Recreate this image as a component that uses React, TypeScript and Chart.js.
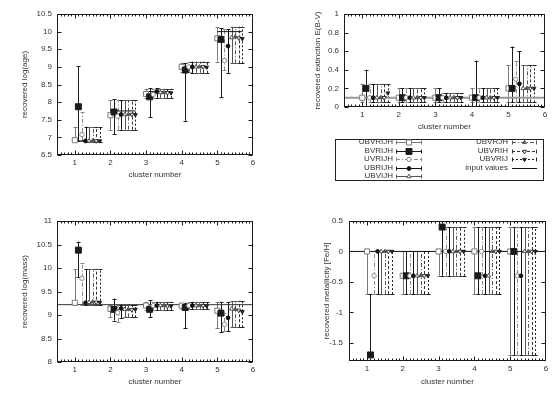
import React, { useEffect, useRef } from "react";
import { Chart, registerables } from "chart.js";
import { drawPoint } from "chart.js/helpers";

Chart.register(...registerables);

const FONT = "'Liberation Sans', Arial, sans-serif";
const TEXT = "#333";

const CLUSTERS = [1, 2, 3, 4, 5];
const X_TICKS = [1, 2, 3, 4, 5, 6];
const X_TITLE = "cluster number";
const SERIES = ["UBVRIJH", "BVRIJH", "UVRIJH", "UBRIJH", "UBVIJH", "UBVRJH", "UBVRIH", "UBVRIJ"];
const SERIES_SHIFT = [0, 0.1, 0.2, 0.3, 0.4, 0.5, 0.6, 0.7];
const INPUT_LABEL = "input values";

// ---- recovered log(age): rows = series, columns = clusters 1..5
const AGE_TICKS = [6.5, 7, 7.5, 8, 8.5, 9, 9.5, 10, 10.5];
const AGE_VALUE = [
  [6.92, 7.63, 8.23, 9.0, 9.81],
  [7.87, 7.72, 8.15, 8.91, 9.78],
  [7.08, 7.6, 8.22, 9.0, 9.18],
  [6.9, 7.65, 8.3, 9.0, 9.59],
  [6.9, 7.65, 8.27, 9.0, 9.83],
  [6.9, 7.65, 8.27, 9.0, 9.85],
  [6.9, 7.65, 8.27, 9.0, 9.82],
  [6.9, 7.64, 8.26, 8.99, 9.8],
];
const AGE_HIGH = [
  [7.3, 8.05, 8.38, 9.12, 10.12],
  [9.02, 8.08, 8.4, 9.1, 10.1],
  [7.72, 8.05, 8.38, 9.15, 10.08],
  [7.3, 8.05, 8.4, 9.15, 10.07],
  [7.3, 8.05, 8.38, 9.15, 10.14],
  [7.3, 8.05, 8.38, 9.15, 10.14],
  [7.3, 8.05, 8.38, 9.15, 10.14],
  [7.3, 8.05, 8.38, 9.15, 10.14],
];
const AGE_LOW = [
  [6.9, 7.22, 8.12, 8.85, 9.15],
  [6.9, 7.09, 7.57, 7.47, 8.14],
  [6.9, 7.22, 8.12, 8.85, 8.9],
  [6.87, 7.22, 8.12, 8.83, 8.83],
  [6.87, 7.22, 8.12, 8.83, 9.1],
  [6.87, 7.22, 8.12, 8.83, 9.1],
  [6.87, 7.22, 8.12, 8.83, 9.1],
  [6.87, 7.22, 8.12, 8.83, 9.1],
];
const AGE_INPUT = [6.9, 7.75, 8.3, 9.0, 10.0];

// ---- recovered extinction E(B-V)
const EXT_TICKS = [0, 0.2, 0.4, 0.6, 0.8, 1];
const EXT_VALUE = [
  [0.1, 0.1, 0.1, 0.1, 0.2],
  [0.2, 0.1, 0.1, 0.1, 0.2],
  [0.1, 0.1, 0.1, 0.1, 0.3],
  [0.1, 0.1, 0.1, 0.1, 0.25],
  [0.1, 0.1, 0.1, 0.1, 0.2],
  [0.1, 0.1, 0.1, 0.1, 0.2],
  [0.1, 0.1, 0.1, 0.1, 0.2],
  [0.15, 0.1, 0.1, 0.1, 0.2],
];
const EXT_HIGH = [
  [0.25, 0.2, 0.2, 0.2, 0.45],
  [0.4, 0.2, 0.2, 0.5, 0.65],
  [0.25, 0.2, 0.15, 0.2, 0.5],
  [0.25, 0.2, 0.15, 0.2, 0.6],
  [0.25, 0.2, 0.15, 0.2, 0.45],
  [0.25, 0.2, 0.15, 0.2, 0.45],
  [0.25, 0.2, 0.15, 0.2, 0.45],
  [0.25, 0.2, 0.15, 0.2, 0.45],
];
const EXT_LOW = [
  [0.05, 0.05, 0.05, 0.05, 0.05],
  [0.0, 0.05, 0.05, 0.0, 0.05],
  [0.05, 0.05, 0.05, 0.05, 0.05],
  [0.05, 0.05, 0.05, 0.05, 0.05],
  [0.05, 0.05, 0.05, 0.05, 0.05],
  [0.05, 0.05, 0.05, 0.05, 0.05],
  [0.05, 0.05, 0.05, 0.05, 0.05],
  [0.05, 0.05, 0.05, 0.05, 0.05],
];
const EXT_INPUT = 0.1;

// ---- recovered log(mass)
const MASS_TICKS = [8, 8.5, 9, 9.5, 10, 10.5, 11];
const MASS_VALUE = [
  [9.26, 9.13, 9.2, 9.2, 9.09],
  [10.38, 9.12, 9.12, 9.16, 9.04],
  [9.78, 9.05, 9.2, 9.2, 8.8],
  [9.26, 9.14, 9.2, 9.2, 8.94],
  [9.27, 9.12, 9.2, 9.2, 9.13],
  [9.28, 9.12, 9.2, 9.2, 9.12],
  [9.27, 9.11, 9.19, 9.2, 9.1],
  [9.27, 9.12, 9.19, 9.19, 9.07],
];
const MASS_HIGH = [
  [9.97, 9.22, 9.28, 9.22, 9.28],
  [10.56, 9.35, 9.32, 9.26, 9.28],
  [10.11, 9.22, 9.28, 9.28, 9.05],
  [9.98, 9.22, 9.28, 9.28, 9.28],
  [9.98, 9.22, 9.28, 9.28, 9.3],
  [9.98, 9.22, 9.28, 9.28, 9.3],
  [9.98, 9.22, 9.28, 9.28, 9.3],
  [9.98, 9.22, 9.28, 9.28, 9.3],
];
const MASS_LOW = [
  [9.22, 8.96, 9.1, 9.13, 8.72],
  [9.8, 8.88, 8.95, 8.72, 8.63],
  [9.22, 8.85, 9.1, 9.13, 8.66],
  [9.22, 8.93, 9.1, 9.13, 8.65],
  [9.22, 8.95, 9.1, 9.13, 8.74],
  [9.22, 8.95, 9.1, 9.13, 8.74],
  [9.22, 8.95, 9.1, 9.13, 8.74],
  [9.22, 8.95, 9.1, 9.13, 8.74],
];
const MASS_INPUT = 9.22;

// ---- recovered metallicity [Fe/H]
const MET_TICKS = [-1.5, -1, -0.5, 0, 0.5];
const MET_VALUE = [
  [0, -0.4, 0, 0, 0],
  [-1.7, -0.4, 0.4, -0.4, 0],
  [-0.4, -0.4, 0, 0, -0.4],
  [0, -0.4, 0, -0.4, -0.4],
  [0, -0.4, 0, -0.4, 0],
  [0, -0.4, 0, 0, 0],
  [0, -0.4, 0, 0, 0],
  [0, -0.4, 0, 0, 0],
];
const MET_HIGH = [
  [0, 0, 0, 0.4, 0.4],
  [-0.7, 0, 0.4, 0.4, 0.4],
  [0, 0, 0.4, 0.4, 0.4],
  [0, 0, 0.4, 0.4, 0.4],
  [0, 0, 0.4, 0.4, 0.4],
  [0, 0, 0.4, 0.4, 0.4],
  [0, 0, 0.4, 0.4, 0.4],
  [0, 0, 0.4, 0.4, 0.4],
];
const MET_LOW = [
  [-0.7, -0.7, -0.4, -0.7, -1.7],
  [-1.7, -0.7, -0.4, -0.7, -1.7],
  [-0.7, -0.7, -0.4, -0.7, -1.7],
  [-0.7, -0.7, -0.4, -0.7, -1.7],
  [-0.7, -0.7, -0.4, -0.7, -1.7],
  [-0.7, -0.7, -0.4, -0.7, -1.7],
  [-0.7, -0.7, -0.4, -0.7, -1.7],
  [-0.7, -0.7, -0.4, -0.7, -1.7],
];
const MET_INPUT = 0;

// ---- styles (separate from data)
const SERIES_STYLE = [
  { shape: "rect", rot: 0, r: 3.6, filled: false, color: "#7a7a7a", dash: [] as number[] },
  { shape: "rect", rot: 0, r: 4.2, filled: true, color: "#1a1a1a", dash: [] as number[] },
  { shape: "circle", rot: 0, r: 2.2, filled: false, color: "#8a8a8a", dash: [4, 2, 1, 2] },
  { shape: "circle", rot: 0, r: 1.9, filled: true, color: "#111", dash: [] as number[] },
  { shape: "triangle", rot: 0, r: 2.4, filled: false, color: "#555", dash: [] as number[] },
  { shape: "triangle", rot: 0, r: 2.2, filled: true, color: "#555", dash: [4, 2, 1, 2] },
  { shape: "triangle", rot: 180, r: 2.4, filled: false, color: "#333", dash: [3, 2] },
  { shape: "triangle", rot: 180, r: 2.2, filled: true, color: "#222", dash: [2, 2] },
];

type PanelDef = {
  value: number[][];
  low: number[][];
  high: number[][];
  input: number[] | number;
  inputColor: string;
  inputWidth: number;
  yMin: number;
  yMax: number;
  yTicks: number[];
  yTitle: string;
  box: { left: number; top: number; width: number; height: number };
  pad: { left: number; top: number; right: number; bottom: number };
  yW: number;
  xH: number;
  yTickPad: number;
  yTitlePad: number;
  xTickPad: number;
  xTitlePad: number;
  legend?: boolean;
};

const PANELS: PanelDef[] = [
  {
    value: AGE_VALUE, low: AGE_LOW, high: AGE_HIGH, input: AGE_INPUT,
    inputColor: "#111", inputWidth: 1,
    yMin: 6.5, yMax: 10.5, yTicks: AGE_TICKS, yTitle: "recovered log(age)",
    box: { left: 0, top: 0, width: 270, height: 190 },
    pad: { left: 0, top: 14, right: 17, bottom: 0 },
    yW: 57, xH: 35, yTickPad: 5, yTitlePad: 20, xTickPad: 3, xTitlePad: 10,
  },
  {
    value: EXT_VALUE, low: EXT_LOW, high: EXT_HIGH, input: EXT_INPUT,
    inputColor: "#999", inputWidth: 2,
    yMin: 0, yMax: 1, yTicks: EXT_TICKS, yTitle: "recovered extinction E(B-V)",
    box: { left: 280, top: 0, width: 280, height: 200 },
    pad: { left: 0, top: 14, right: 15, bottom: 63 },
    yW: 64, xH: 30, yTickPad: 5, yTitlePad: 33, xTickPad: 3, xTitlePad: 5,
    legend: true,
  },
  {
    value: MASS_VALUE, low: MASS_LOW, high: MASS_HIGH, input: MASS_INPUT,
    inputColor: "#333", inputWidth: 1,
    yMin: 8, yMax: 11, yTicks: MASS_TICKS, yTitle: "recovered log(mass)",
    box: { left: 0, top: 200, width: 270, height: 198 },
    pad: { left: 0, top: 21, right: 17, bottom: 0 },
    yW: 57, xH: 36, yTickPad: 5, yTitlePad: 20, xTickPad: 3, xTitlePad: 11,
  },
  {
    value: MET_VALUE, low: MET_LOW, high: MET_HIGH, input: MET_INPUT,
    inputColor: "#111", inputWidth: 1,
    yMin: -1.8, yMax: 0.5, yTicks: MET_TICKS, yTitle: "recovered metallicity [Fe/H]",
    box: { left: 280, top: 200, width: 280, height: 198 },
    pad: { left: 0, top: 21, right: 14, bottom: 0 },
    yW: 69, xH: 37, yTickPad: 6, yTitlePad: 42, xTickPad: 3, xTitlePad: 11,
  },
];

const fmt = (v: number) => String(Math.round(v * 100) / 100);

function drawLegend(ctx: CanvasRenderingContext2D) {
  // legend box in canvas coordinates of the extinction panel
  ctx.save();
  ctx.strokeStyle = "#222";
  ctx.lineWidth = 1;
  ctx.strokeRect(55.5, 139.5, 208, 41);
  ctx.font = `8px ${FONT}`;
  ctx.textAlign = "right";
  ctx.textBaseline = "middle";
  const rows = [142, 150.5, 159, 167.5, 176];
  const cols = [
    { text: 113, s0: 116, s1: 142 },
    { text: 228, s0: 232, s1: 257 },
  ];
  const entries: { label: string; idx: number }[] = SERIES.map((s, i) => ({ label: s, idx: i }));
  entries.push({ label: INPUT_LABEL, idx: -1 });
  entries.forEach((e, n) => {
    const col = n < 5 ? cols[0] : cols[1];
    const y = rows[n < 5 ? n : n - 5];
    ctx.fillStyle = TEXT;
    ctx.fillText(e.label, col.text, y);
    const yy = Math.round(y) + 0.5;
    if (e.idx < 0) {
      ctx.strokeStyle = "#111";
      ctx.setLineDash([]);
      ctx.beginPath();
      ctx.moveTo(col.s0, yy);
      ctx.lineTo(col.s1, yy);
      ctx.stroke();
      return;
    }
    const st = SERIES_STYLE[e.idx];
    ctx.strokeStyle = st.color;
    ctx.setLineDash(st.dash);
    ctx.beginPath();
    ctx.moveTo(col.s0, yy);
    ctx.lineTo(col.s1, yy);
    ctx.stroke();
    ctx.setLineDash([]);
    ctx.beginPath();
    ctx.moveTo(col.s0 + 0.5, yy - 2);
    ctx.lineTo(col.s0 + 0.5, yy + 2);
    ctx.moveTo(col.s1 - 0.5, yy - 2);
    ctx.lineTo(col.s1 - 0.5, yy + 2);
    ctx.stroke();
    ctx.fillStyle = st.filled ? st.color : "#fff";
    drawPoint(ctx, { pointStyle: st.shape as any, rotation: st.rot, radius: st.r, borderWidth: 1 } as any, (col.s0 + col.s1) / 2, yy);
  });
  ctx.restore();
}

function Panel({ def }: { def: PanelDef }) {
  const ref = useRef<HTMLCanvasElement>(null);
  useEffect(() => {
    const canvas = ref.current!;
    const inputData = Array.isArray(def.input)
      ? CLUSTERS.flatMap((c, k) => [
          { x: c, y: (def.input as number[])[k] },
          { x: c + 0.7, y: (def.input as number[])[k] },
          { x: c + 0.85, y: null as any },
        ])
      : [
          { x: 0.5, y: def.input },
          { x: 6, y: def.input },
        ];

    const datasets: any[] = [
      {
        type: "line",
        label: INPUT_LABEL,
        data: inputData,
        borderColor: def.inputColor,
        borderWidth: def.inputWidth,
        pointRadius: 0,
        spanGaps: false,
        fill: false,
        order: 100,
      },
    ];
    SERIES.forEach((name, i) => {
      const st = SERIES_STYLE[i];
      datasets.push({
        type: "scatter",
        label: name,
        data: CLUSTERS.map((c, k) => ({ x: c + SERIES_SHIFT[i], y: def.value[i][k] })),
        errLow: def.low[i],
        errHigh: def.high[i],
        barColor: st.color,
        barDash: st.dash,
        pointStyle: st.shape,
        pointRotation: st.rot,
        pointRadius: st.r,
        pointHoverRadius: st.r,
        pointBackgroundColor: st.filled ? st.color : "#fff",
        pointBorderColor: st.color,
        pointBorderWidth: 1,
        showLine: false,
        order: 20 - i,
      });
    });

    const errorBars = {
      id: "errorBars",
      beforeDatasetsDraw(chart: any) {
        const { ctx, chartArea: a, scales } = chart;
        const xs = scales.x, ys = scales.y;
        ctx.save();
        ctx.beginPath();
        ctx.rect(a.left, a.top, a.right - a.left, a.bottom - a.top);
        ctx.clip();
        ctx.lineWidth = 1;
        chart.data.datasets.forEach((ds: any) => {
          if (!ds.errLow) return;
          ds.data.forEach((p: any, k: number) => {
            const px = Math.round(xs.getPixelForValue(p.x)) + 0.5;
            const yl = ys.getPixelForValue(ds.errLow[k]);
            const yh = ys.getPixelForValue(ds.errHigh[k]);
            ctx.strokeStyle = ds.barColor;
            ctx.setLineDash(ds.barDash);
            ctx.beginPath();
            ctx.moveTo(px, yl);
            ctx.lineTo(px, yh);
            ctx.stroke();
            ctx.setLineDash([]);
            ctx.beginPath();
            const l = Math.round(yl) + 0.5, h = Math.round(yh) + 0.5;
            ctx.moveTo(px - 2, l);
            ctx.lineTo(px + 2, l);
            ctx.moveTo(px - 2, h);
            ctx.lineTo(px + 2, h);
            ctx.stroke();
          });
        });
        ctx.restore();
      },
    };

    const frame = {
      id: "frame",
      afterDraw(chart: any) {
        const { ctx, chartArea: a, scales } = chart;
        const xs = scales.x, ys = scales.y;
        const L = Math.round(a.left) + 0.5, R = Math.round(a.right) - 0.5;
        const T = Math.round(a.top) + 0.5, B = Math.round(a.bottom) - 0.5;
        ctx.save();
        ctx.strokeStyle = "#1a1a1a";
        ctx.lineWidth = 1;
        ctx.setLineDash([]);
        ctx.strokeRect(L, T, R - L, B - T);
        ctx.beginPath();
        for (let k = 6; k < 60; k++) {
          const len = k % 10 === 0 ? 4 : 2;
          const px = Math.round(xs.getPixelForValue(k / 10)) + 0.5;
          ctx.moveTo(px, B);
          ctx.lineTo(px, B - len);
          ctx.moveTo(px, T);
          ctx.lineTo(px, T + len);
        }
        def.yTicks.forEach((v) => {
          const py = Math.round(ys.getPixelForValue(v)) + 0.5;
          ctx.moveTo(L, py);
          ctx.lineTo(L + 4, py);
          ctx.moveTo(R, py);
          ctx.lineTo(R - 4, py);
        });
        ctx.stroke();
        ctx.restore();
        if (def.legend) drawLegend(ctx);
      },
    };

    const chart = new Chart(canvas, {
      type: "scatter",
      data: { datasets },
      plugins: [errorBars, frame],
      options: {
        animation: false,
        responsive: false,
        maintainAspectRatio: false,
        layout: { padding: def.pad },
        plugins: { legend: { display: false }, tooltip: { enabled: false } },
        events: [],
        scales: {
          x: {
            type: "linear",
            min: 0.5,
            max: 6,
            afterBuildTicks: (s: any) => {
              s.ticks = X_TICKS.map((v) => ({ value: v }));
            },
            afterFit: (s: any) => {
              s.height = def.xH;
            },
            grid: { display: false, drawTicks: false },
            border: { display: false },
            ticks: {
              padding: def.xTickPad,
              color: TEXT,
              font: { family: FONT, size: 8 },
              maxRotation: 0,
              autoSkip: false,
              callback: (v: any) => fmt(Number(v)),
            },
            title: {
              display: true,
              text: X_TITLE,
              color: TEXT,
              font: { family: FONT, size: 8 },
              padding: { top: 0, bottom: def.xTitlePad },
            },
          },
          y: {
            type: "linear",
            min: def.yMin,
            max: def.yMax,
            afterBuildTicks: (s: any) => {
              s.ticks = def.yTicks.map((v) => ({ value: v }));
            },
            afterFit: (s: any) => {
              s.width = def.yW;
            },
            grid: { display: false, drawTicks: false },
            border: { display: false },
            ticks: {
              padding: def.yTickPad,
              color: TEXT,
              font: { family: FONT, size: 8 },
              autoSkip: false,
              callback: (v: any) => fmt(Number(v)),
            },
            title: {
              display: true,
              text: def.yTitle,
              color: TEXT,
              font: { family: FONT, size: 8 },
              padding: { top: def.yTitlePad, bottom: 0 },
            },
          },
        },
      } as any,
    });
    return () => chart.destroy();
  }, [def]);

  return (
    <canvas
      ref={ref}
      width={def.box.width}
      height={def.box.height}
      style={{
        position: "absolute",
        left: def.box.left,
        top: def.box.top,
        width: def.box.width,
        height: def.box.height,
        display: "block",
      }}
    />
  );
}

export default function App() {
  return (
    <div
      style={{
        position: "fixed",
        left: 0,
        top: 0,
        width: 560,
        height: 398,
        background: "#fff",
        overflow: "hidden",
      }}
    >
      {PANELS.map((p, i) => (
        <Panel key={i} def={p} />
      ))}
    </div>
  );
}
